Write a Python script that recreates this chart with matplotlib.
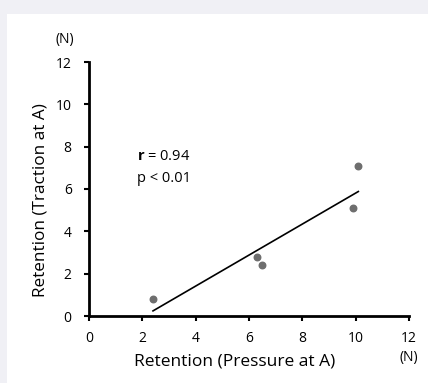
import numpy as np
import matplotlib
matplotlib.use("Agg")
import matplotlib.pyplot as plt

plt.rcParams['font.family'] = ['Open Sans', 'DejaVu Sans']
plt.rcParams['mathtext.fontset'] = 'custom'
plt.rcParams['mathtext.bf'] = 'Open Sans:bold'
plt.rcParams['mathtext.rm'] = 'Open Sans'

# Data
pressure = [2.4, 6.3, 6.5, 9.9, 10.1]
traction = [0.8, 2.8, 2.4, 5.1, 7.1]
ticks = [0, 2, 4, 6, 8, 10, 12]

fig = plt.figure(figsize=(4.28, 3.83), dpi=100)
fig.patch.set_facecolor('#f0f0f5')
# white panel
fig.add_artist(plt.Rectangle((7 / 428, 0), 1, 1 - 14 / 383, transform=fig.transFigure,
                             facecolor='white', edgecolor='none', zorder=0))

ax = fig.add_axes([89 / 428, 1 - 316 / 383, 320 / 428, 254 / 383])
ax.set_facecolor('none')

ax.scatter(pressure, traction, s=22, color='#6e6e6e', zorder=3, clip_on=False)

slope, intercept = np.polyfit(pressure, traction, 1)
xs = np.array([min(pressure), max(pressure)])
ax.plot(xs, slope * xs + intercept, color='black', lw=1.2, zorder=2)

ax.set_xlim(0, 12)
ax.set_ylim(0, 12)
ax.set_xticks(ticks)
ax.set_yticks(ticks)
ax.tick_params(direction='out', length=3.5, width=1.5, labelsize=10)
ax.tick_params(axis='x', pad=7)
ax.tick_params(axis='y', pad=9)

for side in ['top', 'right']:
    ax.spines[side].set_visible(False)
for side in ['left', 'bottom']:
    ax.spines[side].set_linewidth(2)

ax.set_xlabel('Retention (Pressure at A)', fontsize=12.5, va='center')
ax.xaxis.set_label_coords(0.456, -0.181)
ax.set_ylabel('Retention (Traction at A)', fontsize=12.3, va='center')
ax.yaxis.set_label_coords(-0.15, 0.457)

ax.text(-0.075, 1.09, '(N)', transform=ax.transAxes, fontsize=10, ha='center', va='center')
ax.text(1.0, -0.162, '(N)', transform=ax.transAxes, fontsize=10, ha='center', va='center')

ax.text(1.8, 7.55, r'$\mathbf{r}$ = 0.94', fontsize=10.5, ha='left', va='center')
ax.text(1.8, 6.5, 'p < 0.01', fontsize=10.5, ha='left', va='center')

fig.savefig('out.png', dpi=100)
